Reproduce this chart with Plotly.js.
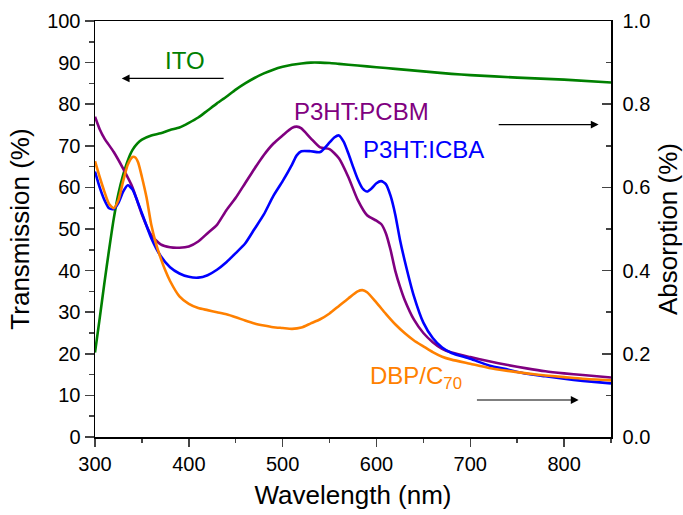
<!DOCTYPE html>
<html>
<head>
<meta charset="utf-8">
<script src="https://cdn.plot.ly/plotly-3.0.1.min.js"></script>
<style>html,body{margin:0;padding:0;background:#fff;}#chart{width:683px;height:515px;}</style>
</head>
<body>
<div id="chart"></div>
<script>
// ITO transmission (%), left axis
const itoWl = [300,305,310,315,320,325,330,335,340,345,350,360,370,380,390,400,410,420,430,440,450,460,470,480,490,500,510,520,530,540,550,560,580,600,620,650,680,700,750,800,850];
const itoT  = [20.3,28.5,37,45,52.5,58.5,63,66.5,69,70.5,71.5,72.5,73,73.8,74.4,75.5,76.8,78.5,80.2,81.8,83.5,85,86.3,87.4,88.3,89,89.5,89.8,90,90,89.9,89.7,89.3,88.9,88.5,87.9,87.3,87,86.4,85.9,85.2];

// P3HT:PCBM absorption, right axis
const pcbmWl = [300,305,310,320,330,340,350,360,370,380,390,400,410,420,430,440,450,460,470,480,490,500,510,515,520,530,540,550,560,570,580,590,600,605,610,615,620,625,630,640,650,660,670,680,700,720,740,760,780,800,820,850];
const pcbmA  = [0.77,0.74,0.718,0.685,0.645,0.60,0.535,0.485,0.463,0.456,0.455,0.458,0.47,0.49,0.51,0.545,0.575,0.61,0.645,0.678,0.705,0.725,0.743,0.746,0.742,0.718,0.696,0.692,0.67,0.625,0.57,0.533,0.52,0.512,0.49,0.45,0.40,0.362,0.33,0.282,0.25,0.228,0.212,0.203,0.192,0.182,0.173,0.165,0.158,0.153,0.149,0.143];

// P3HT:ICBA absorption, right axis
const icbaWl = [300,305,310,315,320,325,330,335,340,345,350,360,370,380,390,400,410,420,430,440,450,460,470,480,490,500,510,515,520,530,540,550,555,560,565,570,575,580,585,590,595,600,605,610,615,620,625,630,640,650,660,670,680,700,720,740,760,780,800,820,850];
const icbaA  = [0.638,0.60,0.57,0.55,0.548,0.563,0.59,0.605,0.595,0.568,0.538,0.478,0.435,0.408,0.393,0.385,0.383,0.389,0.402,0.42,0.442,0.465,0.50,0.535,0.579,0.615,0.655,0.677,0.687,0.687,0.685,0.708,0.72,0.725,0.71,0.682,0.65,0.62,0.598,0.59,0.598,0.61,0.615,0.608,0.58,0.535,0.475,0.425,0.338,0.275,0.238,0.215,0.202,0.188,0.172,0.162,0.152,0.146,0.14,0.135,0.129];

// DBP/C70 absorption, right axis
const dbpWl = [300,305,310,315,320,325,330,335,340,343,346,350,355,360,365,370,375,380,390,400,410,420,430,440,450,460,470,480,490,500,510,520,530,540,550,560,570,580,585,590,600,610,620,630,640,650,660,670,680,700,720,740,760,780,800,820,850];
const dbpA  = [0.663,0.625,0.59,0.56,0.55,0.57,0.615,0.655,0.673,0.672,0.66,0.625,0.575,0.51,0.465,0.43,0.40,0.375,0.338,0.32,0.31,0.305,0.30,0.295,0.288,0.28,0.273,0.268,0.264,0.262,0.26,0.263,0.273,0.283,0.297,0.315,0.333,0.35,0.353,0.348,0.323,0.296,0.271,0.25,0.232,0.218,0.204,0.193,0.186,0.176,0.166,0.159,0.153,0.148,0.144,0.14,0.136];

const xTicks = [300,400,500,600,700,800];
const font = "Liberation Sans, Arial, sans-serif";

const traces = [
  {x: itoWl, y: itoT, yaxis: 'y', mode: 'lines', line: {color: '#008000', width: 2.6, shape: 'spline', smoothing: 0.6}, name: 'ITO'},
  {x: pcbmWl, y: pcbmA, yaxis: 'y2', mode: 'lines', line: {color: '#800080', width: 2.6, shape: 'spline', smoothing: 0.6}, name: 'P3HT:PCBM'},
  {x: icbaWl, y: icbaA, yaxis: 'y2', mode: 'lines', line: {color: '#0000FF', width: 2.6, shape: 'spline', smoothing: 0.6}, name: 'P3HT:ICBA'},
  {x: dbpWl, y: dbpA, yaxis: 'y2', mode: 'lines', line: {color: '#FF8000', width: 2.6, shape: 'spline', smoothing: 0.6}, name: 'DBP/C70'}
];

function arrow(x0, x1, y, ref) {
  return {x: x1, y: y, ax: x0, ay: y, xref: 'x', yref: ref, axref: 'x', ayref: ref,
    text: '', showarrow: true, arrowhead: 2, arrowsize: 1.3, arrowwidth: 1.2, arrowcolor: '#000', standoff: 0, startstandoff: 0};
}

const layout = {
  width: 683, height: 515,
  margin: {l: 95, r: 72, t: 21, b: 78},
  paper_bgcolor: '#fff', plot_bgcolor: '#fff',
  showlegend: false,
  font: {family: font, color: '#000'},
  xaxis: {
    range: [300, 850], tickvals: xTicks, ticks: 'outside', ticklen: 8, tickwidth: 1.5,
    minor: {dtick: 50, ticks: 'outside', ticklen: 4, tickwidth: 1.5, showgrid: false},
    showline: true, linewidth: 1.5, linecolor: '#000', mirror: true, showgrid: false, zeroline: false,
    tickfont: {size: 20, family: font},
    title: {text: 'Wavelength (nm)', font: {size: 26, family: font}, standoff: 12}
  },
  yaxis: {
    range: [0, 100], dtick: 10, ticks: 'outside', ticklen: 9, tickwidth: 1.5,
    minor: {dtick: 5, ticks: 'outside', ticklen: 5, tickwidth: 1.5, showgrid: false},
    showline: true, linewidth: 1.5, linecolor: '#000', showgrid: false, zeroline: false,
    tickfont: {size: 20, family: font},
    title: {text: 'Transmission (%)', font: {size: 26, family: font}, standoff: 10}
  },
  yaxis2: {
    range: [0, 1], dtick: 0.2, tickformat: '.1f', overlaying: 'y', side: 'right',
    ticks: 'inside', ticklen: 9, tickwidth: 1.5,
    minor: {dtick: 0.1, ticks: 'inside', ticklen: 5, tickwidth: 1.5, showgrid: false},
    showline: true, linewidth: 1.5, linecolor: '#000', showgrid: false, zeroline: false,
    tickfont: {size: 20, family: font}, ticklabelstandoff: 6,
    title: {text: 'Absorption (%)', font: {size: 26, family: font}, standoff: 10}
  },
  annotations: [
    {x: 396, y: 90.5, xref: 'x', yref: 'y', text: 'ITO', showarrow: false, xanchor: 'center', yanchor: 'middle', font: {size: 24, color: '#008000', family: font}},
    arrow(438.7, 328.5, 86.2, 'y'),
    {x: 510, y: 78.3, xref: 'x', yref: 'y', text: 'P3HT:PCBM', showarrow: false, xanchor: 'left', yanchor: 'middle', font: {size: 24, color: '#800080', family: font}},
    {x: 583, y: 69.0, xref: 'x', yref: 'y', text: 'P3HT:ICBA', showarrow: false, xanchor: 'left', yanchor: 'middle', font: {size: 24, color: '#0000FF', family: font}},
    arrow(728.7, 836.8, 75.1, 'y'),
    {x: 591.5, y: 14.2, xref: 'x', yref: 'y', text: 'DBP/C<sub>70</sub>', showarrow: false, xanchor: 'left', yanchor: 'middle', font: {size: 24, color: '#FF8000', family: font}},
    arrow(705.5, 815.5, 8.9, 'y')
  ]
};

Plotly.newPlot('chart', traces, layout, {staticPlot: true, displayModeBar: false});
</script>
</body>
</html>
